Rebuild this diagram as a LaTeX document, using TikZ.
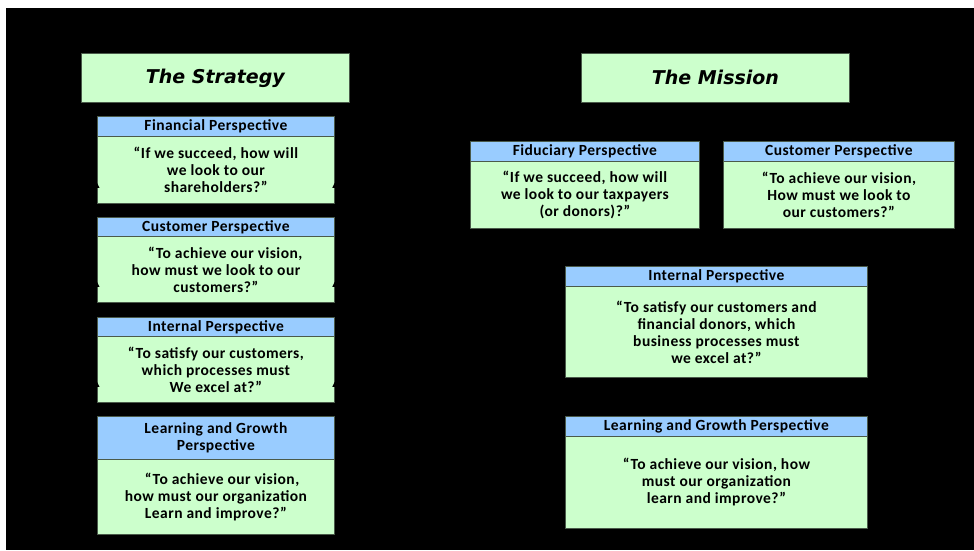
\documentclass[tikz,border=0pt]{standalone}
\usepackage{fontspec}
\setmainfont{Carlito}
\newfontfamily\boxfont[LetterSpace=3]{Carlito}
\newfontfamily\headfont{DejaVu Sans}
\definecolor{boxgreen}{HTML}{CCFFCC}
\definecolor{boxblue}{HTML}{99CCFF}
\definecolor{edgecol}{HTML}{4A5A4A}
\begin{document}
\begin{tikzpicture}[x=1pt,y=-1pt,
  panel/.style={draw=edgecol, line width=0.8pt, anchor=north west, inner sep=0pt,
    align=center, text=black},
  titlebox/.style={panel, fill=boxgreen, font=\headfont\bfseries\itshape\fontsize{19}{22}\selectfont},
  hdr/.style={panel, fill=boxblue, font=\boxfont\bfseries\fontsize{15.5}{17}\selectfont},
  bodybox/.style={panel, fill=boxgreen, font=\boxfont\bfseries\fontsize{15.5}{17}\selectfont},
  notch/.style={fill=black}
]
% page frame
\useasboundingbox (0,0) rectangle (974,550);
\fill[white] (0,0) rectangle (974,550);
\fill[black] (6,8) rectangle (974,550);

% ---------- left column: the strategy ----------
\node[titlebox, minimum width=268pt, minimum height=49pt] (strat) at (81,53) {The Strategy};

\node[hdr, minimum width=237pt, minimum height=20pt] (finH) at (97,116) {Financial Perspective};
\node[bodybox, minimum width=237pt, minimum height=67pt] (finB) at (97,136)
  {“If we succeed, how will\\we look to our\\shareholders?”};

\node[hdr, minimum width=237pt, minimum height=19pt] (cusH) at (97,217) {Customer Perspective};
\node[bodybox, minimum width=237pt, minimum height=66pt] (cusB) at (97,236)
  {\hspace*{1.2em}“To achieve our vision,\\how must we look to our\\customers?”};

\node[hdr, minimum width=237pt, minimum height=19pt] (intH) at (97,317) {Internal Perspective};
\node[bodybox, minimum width=237pt, minimum height=66pt] (intB) at (97,336)
  {“To satisfy our customers,\\which processes must\\We excel at?”};

\node[hdr, minimum width=237pt, minimum height=43pt] (lrnH) at (97,416) {Learning and Growth\\Perspective};
\node[bodybox, minimum width=237pt, minimum height=75pt] (lrnB) at (97,459)
  {\hspace*{0.8em}“To achieve our vision,\\how must our organization\\Learn and improve?”};

% small notches on the box sides
\foreach \b in {finB,cusB,intB}{
  \fill[notch] ([shift={(-2.5pt,16pt)}]\b.south west) -- ++(5pt,0) -- ++(-2.5pt,5pt) -- cycle;
  \fill[notch] ([shift={(-2.5pt,16pt)}]\b.south east) -- ++(5pt,0) -- ++(-2.5pt,5pt) -- cycle;
}

% ---------- right column: the mission ----------
\node[titlebox, minimum width=268pt, minimum height=49pt] (miss) at (581,53) {The Mission};

\node[hdr, minimum width=229pt, minimum height=20pt] (fidH) at (470,141) {Fiduciary Perspective};
\node[bodybox, minimum width=229pt, minimum height=67pt] (fidB) at (470,161)
  {“If we succeed, how will\\we look to our taxpayers\\(or donors)?”};

\node[hdr, minimum width=231pt, minimum height=20pt] (mcuH) at (723,141) {Customer Perspective};
\node[bodybox, minimum width=231pt, minimum height=67pt] (mcuB) at (723,161)
  {“To achieve our vision,\\How must we look to\\our customers?”};

\node[hdr, minimum width=302pt, minimum height=20pt] (minH) at (565,266) {Internal Perspective};
\node[bodybox, minimum width=302pt, minimum height=91pt] (minB) at (565,286)
  {“To satisfy our customers and\\financial donors, which\\business processes must\\we excel at?”};

\node[hdr, minimum width=302pt, minimum height=20pt] (mlrH) at (565,416) {Learning and Growth Perspective};
\node[bodybox, minimum width=302pt, minimum height=92pt] (mlrB) at (565,436)
  {“To achieve our vision, how\\must our organization\\learn and improve?”};
\end{tikzpicture}
\end{document}
